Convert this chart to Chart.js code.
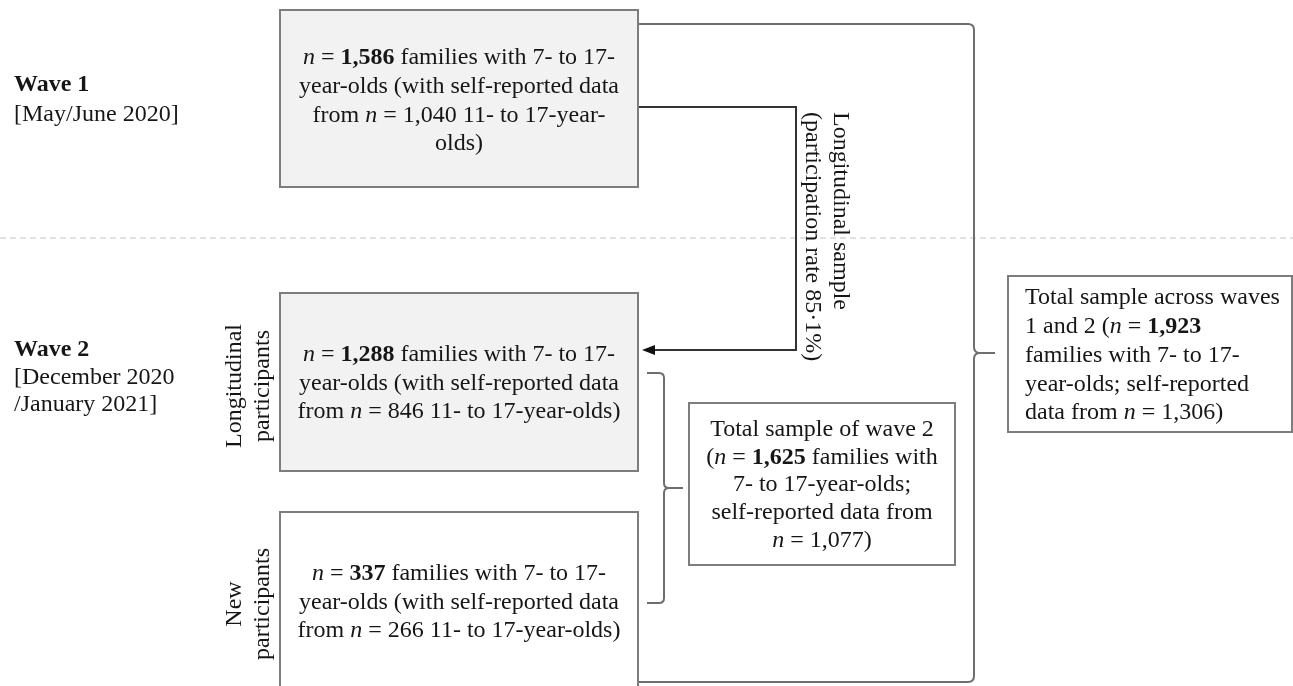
<!DOCTYPE html>
<html>
<head>
<meta charset="utf-8">
<script src="https://cdn.jsdelivr.net/npm/chart.js@4.4.1/dist/chart.umd.min.js"></script>
<style>
  html, body { margin: 0; padding: 0; background: #fff; }
  #wrap { width: 1293px; height: 686px; }
</style>
</head>
<body>
<div id="wrap"><canvas id="flowChart" width="1293" height="686"></canvas></div>
<script>
/* Sample sizes */
const stages = ['Wave 1', 'Wave 2 longitudinal', 'Wave 2 new', 'Wave 2 total', 'Waves 1 and 2 total'];
const familyCounts = [1586, 1288, 337, 1625, 1923];
const selfReportCounts = [1040, 846, 266, 1077, 1306];
const participationRate = 85.1;
const waveLabels = ['Wave 1', 'Wave 2'];
const waveDates = [['[May/June 2020]'], ['[December 2020', '/January 2021]']];
const groupLabels = [['Longitudinal', 'participants'], ['New', 'participants']];

const fmt = v => v.toLocaleString('en-US');
const N = { t: 'n', i: true };

/* Text of each box, built from the counts above */
function boxText(i) {
  const fam = { t: fmt(familyCounts[i]), b: true };
  const self = fmt(selfReportCounts[i]);
  if (i === 0) {
    return [
      [N, { t: ' = ' }, fam, { t: ' families with 7- to 17-' }],
      [{ t: 'year-olds (with self-reported data' }],
      [{ t: 'from ' }, N, { t: ' = ' + self + ' 11- to 17-year-' }],
      [{ t: 'olds)' }]
    ];
  }
  if (i === 1 || i === 2) {
    return [
      [N, { t: ' = ' }, fam, { t: ' families with 7- to 17-' }],
      [{ t: 'year-olds (with self-reported data' }],
      [{ t: 'from ' }, N, { t: ' = ' + self + ' 11- to 17-year-olds)' }]
    ];
  }
  if (i === 3) {
    return [
      [{ t: 'Total sample of wave 2' }],
      [{ t: '(' }, N, { t: ' = ' }, fam, { t: ' families with' }],
      [{ t: '7- to 17-year-olds;' }],
      [{ t: 'self-reported data from' }],
      [N, { t: ' = ' + self + ')' }]
    ];
  }
  return [
    [{ t: 'Total sample across waves' }],
    [{ t: '1 and 2 (' }, N, { t: ' = ' }, fam],
    [{ t: 'families with 7- to 17-' }],
    [{ t: 'year-olds; self-reported' }],
    [{ t: 'data from ' }, N, { t: ' = ' + self + ')' }]
  ];
}

/* Layout of the diagram, in canvas units */
const boxLayout = [
  { x0: 280, y0: 10, x1: 638, y1: 187, fill: '#f2f2f2', first: 58, lh: 28.7, align: 'center' },
  { x0: 280, y0: 293, x1: 638, y1: 471, fill: '#f2f2f2', first: 355, lh: 28.5, align: 'center' },
  { x0: 280, y0: 512, x1: 638, y1: 700, fill: '#ffffff', first: 574, lh: 28.5, align: 'center' },
  { x0: 689, y0: 403, x1: 955, y1: 565, fill: '#ffffff', first: 430, lh: 27.6, align: 'center' },
  { x0: 1008, y0: 276, x1: 1292, y1: 432, fill: '#ffffff', first: 298, lh: 28.75, align: 'left', tx: 1025 }
];

const SERIF = '"Liberation Serif", "Times New Roman", serif';
const TEXT = '#161616';

function font(seg, size) {
  return (seg.i ? 'italic ' : '') + (seg.b ? 'bold ' : '') + size + 'px ' + SERIF;
}

function drawRich(ctx, segs, x, y, align, size) {
  let w = 0;
  segs.forEach(s => { ctx.font = font(s, size); w += ctx.measureText(s.t).width; });
  let cx = align === 'center' ? x - w / 2 : x;
  ctx.textAlign = 'left';
  ctx.textBaseline = 'middle';
  segs.forEach(s => {
    ctx.font = font(s, size);
    ctx.fillText(s.t, cx, y);
    cx += ctx.measureText(s.t).width;
  });
}

const flowPlugin = {
  id: 'flowDiagram',
  afterDraw(chart) {
    const { ctx, scales: { x, y } } = chart;
    const px = v => x.getPixelForValue(v);
    const py = v => y.getPixelForValue(v);
    ctx.save();

    // wave separator
    ctx.strokeStyle = '#c4c4c4';
    ctx.lineWidth = 1;
    ctx.setLineDash([6, 4]);
    ctx.beginPath();
    ctx.moveTo(px(0), py(238));
    ctx.lineTo(px(1293), py(238));
    ctx.stroke();
    ctx.setLineDash([]);

    // big brace joining wave 1 and wave 2
    ctx.strokeStyle = '#6e6e6e';
    ctx.lineWidth = 2;
    ctx.beginPath();
    ctx.moveTo(px(638), py(24));
    ctx.lineTo(px(968), py(24));
    ctx.quadraticCurveTo(px(974), py(24), px(974), py(30));
    ctx.lineTo(px(974), py(347));
    ctx.quadraticCurveTo(px(974), py(353), px(980), py(353));
    ctx.lineTo(px(995), py(353));
    ctx.moveTo(px(980), py(353));
    ctx.quadraticCurveTo(px(974), py(353), px(974), py(359));
    ctx.lineTo(px(974), py(676));
    ctx.quadraticCurveTo(px(974), py(682), px(968), py(682));
    ctx.lineTo(px(638), py(682));
    ctx.stroke();

    // small brace joining the two wave 2 groups
    ctx.beginPath();
    ctx.moveTo(px(647), py(373));
    ctx.lineTo(px(659), py(373));
    ctx.quadraticCurveTo(px(664), py(373), px(664), py(378));
    ctx.lineTo(px(664), py(483));
    ctx.quadraticCurveTo(px(664), py(488), px(669), py(488));
    ctx.lineTo(px(683), py(488));
    ctx.moveTo(px(669), py(488));
    ctx.quadraticCurveTo(px(664), py(488), px(664), py(493));
    ctx.lineTo(px(664), py(598));
    ctx.quadraticCurveTo(px(664), py(603), px(659), py(603));
    ctx.lineTo(px(647), py(603));
    ctx.stroke();

    // longitudinal arrow
    ctx.strokeStyle = '#333';
    ctx.beginPath();
    ctx.moveTo(px(638), py(107));
    ctx.lineTo(px(796), py(107));
    ctx.lineTo(px(796), py(350));
    ctx.lineTo(px(652), py(350));
    ctx.stroke();
    ctx.fillStyle = '#111';
    ctx.beginPath();
    ctx.moveTo(px(642), py(350));
    ctx.lineTo(px(655), py(345));
    ctx.lineTo(px(655), py(355));
    ctx.closePath();
    ctx.fill();

    // boxes
    boxLayout.forEach((b, i) => {
      ctx.fillStyle = b.fill;
      ctx.fillRect(px(b.x0), py(b.y0), px(b.x1) - px(b.x0), py(b.y1) - py(b.y0));
      ctx.strokeStyle = '#7d7d7d';
      ctx.lineWidth = 2;
      ctx.strokeRect(px(b.x0), py(b.y0), px(b.x1) - px(b.x0), py(b.y1) - py(b.y0));
      ctx.fillStyle = TEXT;
      const tx = b.align === 'center' ? (b.x0 + b.x1) / 2 : b.tx;
      boxText(i).forEach((line, k) => {
        drawRich(ctx, line, px(tx), py(b.first + k * b.lh), b.align, 24);
      });
    });

    // wave labels on the left
    ctx.fillStyle = TEXT;
    const waveY = [[85, 115], [350, 378, 405]];
    waveLabels.forEach((w, i) => {
      drawRich(ctx, [{ t: w, b: true }], px(14), py(waveY[i][0]), 'left', 24);
      waveDates[i].forEach((d, k) => {
        drawRich(ctx, [{ t: d }], px(14), py(waveY[i][k + 1]), 'left', 24);
      });
    });

    // rotated group labels
    const groupY = [386, 604];
    groupLabels.forEach((g, i) => {
      g.forEach((t, k) => {
        ctx.save();
        ctx.translate(px(235 + k * 28), py(groupY[i]));
        ctx.rotate(-Math.PI / 2);
        drawRich(ctx, [{ t }], 0, 0, 'center', 24);
        ctx.restore();
      });
    });

    // arrow label, rotated clockwise
    const rate = participationRate.toFixed(1).replace('.', '·');
    const arrowLines = ['Longitudinal sample', '(participation rate ' + rate + '%)'];
    arrowLines.forEach((t, k) => {
      ctx.save();
      ctx.translate(px(840 - k * 28), py(112));
      ctx.rotate(Math.PI / 2);
      drawRich(ctx, [{ t }], 0, 0, 'left', 24);
      ctx.restore();
    });

    ctx.restore();
  }
};

new Chart(document.getElementById('flowChart'), {
  type: 'scatter',
  data: {
    labels: stages,
    datasets: [{ data: [], pointRadius: 0 }]
  },
  options: {
    responsive: false,
    animation: false,
    devicePixelRatio: 1,
    layout: { padding: 0 },
    plugins: { legend: { display: false }, tooltip: { enabled: false } },
    scales: {
      x: { type: 'linear', min: 0, max: 1293, display: false },
      y: { type: 'linear', min: 0, max: 686, reverse: true, display: false }
    }
  },
  plugins: [flowPlugin]
});
</script>
</body>
</html>
